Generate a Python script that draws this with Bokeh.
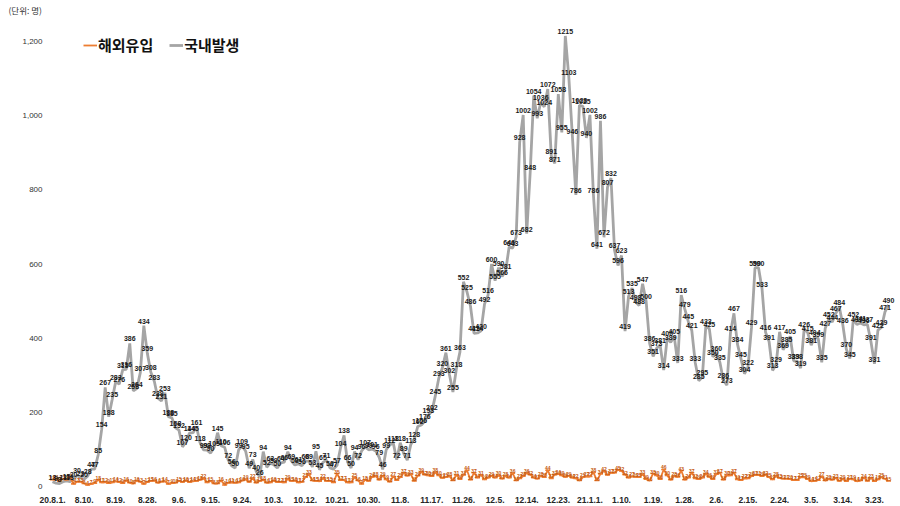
from bokeh.plotting import figure
from bokeh.models import (FixedTicker, NumeralTickFormatter, Legend, LegendItem,
                          ColumnDataSource, Range1d, Title)
from bokeh.core.properties import value
from bokeh.embed import file_html
from bokeh.resources import INLINE

# ---- data (daily, 2020-08-01 .. 2021-03-27) ----
domestic = [
    13, 9, 8, 13, 15, 13, 20, 30, 23, 20, 28, 47, 47,
    85, 154, 267, 188, 235, 283, 276, 315, 316, 386, 258, 264, 307, 434, 359, 308, 283, 238,
    231, 253, 188, 185, 158, 152, 107, 120, 144, 145, 161, 118, 99, 98, 90, 105, 145, 110, 106, 72,
    56, 50, 99, 109, 95, 49, 73, 40, 26, 94,
    52, 63, 59, 50, 64, 66, 94, 69, 58, 61, 56, 68, 69, 53, 95, 45, 65, 71, 50, 47, 57, 104, 138,
    66, 50, 94, 72, 96, 107, 99, 101,
    96, 79, 46, 99, 112, 118, 72, 118, 89, 71, 113, 128, 162, 166, 176, 193, 202, 245, 293, 320,
    361, 302, 255, 318, 363, 552, 525, 486, 413, 414,
    420, 492, 516, 600, 555, 590, 566, 581, 646, 643, 673, 928, 1002, 682, 848, 1054, 993, 1036,
    1024, 1072, 891, 871, 1058, 955, 1215, 1103, 946, 786, 1028, 1025, 940,
    1002, 786, 641, 986, 672, 807, 832, 637, 596, 623, 419, 513, 535, 498, 488, 547, 500, 386,
    351, 373, 381, 314, 400, 389, 405, 333, 516, 479, 445, 421, 333,
    285, 295, 433, 425, 350, 360, 335, 286, 273, 414, 467, 384, 345, 304, 322, 429, 590, 590,
    533, 416, 391, 313, 329, 417, 369, 385, 405, 339,
    338, 319, 426, 415, 381, 404, 399, 335, 427, 452, 444, 467, 484, 436, 370, 345, 452, 437,
    441, 436, 437, 391, 331, 422, 429, 471, 490,
]
imported = [
    18, 21, 15, 21, 18, 23, 7, 13, 13, 8, 4, 7, 9, 18, 11, 12, 9, 11, 14, 12, 9, 16, 10, 8, 16, 13, 7, 12, 15, 16, 10,
    13, 14, 7, 9, 10, 15, 12, 16, 12, 14, 15, 18, 22, 11, 15, 8, 8, 16, 4, 10, 11, 10, 11, 16, 19, 12, 22, 10, 15, 18,
    10, 11, 16, 12, 12, 11, 20, 15, 16, 11, 12, 25, 33, 16, 15, 14, 22, 15, 15, 11, 35, 17, 17, 11, 11, 25, 16, 7, 18, 15, 26,
    28, 18, 29, 19, 13, 27, 17, 25, 37, 29, 33, 15, 29, 39, 32, 30, 28, 38, 30, 23, 25, 28, 16, 31, 20, 31, 44, 18, 37, 24,
    31, 19, 24, 29, 24, 30, 21, 28, 24, 36, 16, 22, 28, 36, 32, 24, 21, 28, 25, 44, 22, 32, 34, 30, 26, 29, 24, 22, 16, 25, 27,
    27, 38, 16, 34, 42, 31, 37, 37, 45, 42, 32, 24, 27, 26, 25, 33, 20, 16, 35, 30, 20, 46, 30, 18, 28, 26, 43, 18, 24, 37, 22,
    20, 24, 34, 26, 20, 33, 37, 18, 30, 30, 37, 19, 17, 22, 22, 28, 31, 31, 28, 32, 25, 19, 28, 23, 21, 21, 20, 17,
    17, 25, 25, 20, 14, 15, 17, 27, 16, 20, 18, 23, 15, 20, 14, 21, 19, 14, 16, 24, 15, 23, 14, 19, 25, 21, 15,
]
tick_labels = ["20.8.1.", "8.10.", "8.19.", "8.28.", "9.6.", "9.15.", "9.24.", "10.3.", "10.12.",
               "10.21.", "10.30.", "11.8.", "11.17.", "11.26.", "12.5.", "12.14.", "12.23.", "21.1.1.",
               "1.10.", "1.19.", "1.28.", "2.6.", "2.15.", "2.24.", "3.5.", "3.14.", "3.23."]
y_ticks = [0, 200, 400, 600, 800, 1000, 1200]
series_names = ["해외유입", "국내발생"]
unit_text = "(단위: 명)"

n = len(domestic)
xs = list(range(n))
x_ticks = list(range(0, n, 9))

src = ColumnDataSource(dict(
    x=xs, dom=domestic, imp=imported,
    dom_lbl=[str(v) for v in domestic], imp_lbl=[str(v) for v in imported],
))

KR = "Noto Sans CJK KR"
LAT = "Liberation Sans"

p = figure(width=900, height=506, output_backend="svg", toolbar_location=None,
           x_range=Range1d(-2.2775, 241.42), y_range=Range1d(-8.09, 1267.42),
           min_border_left=44, min_border_right=0, min_border_top=16, min_border_bottom=17)
p.outline_line_color = None
p.grid.visible = False
p.background_fill_color = "white"

p.add_layout(Title(text=unit_text, align="left", offset=-36, standoff=0,
                   vertical_align="middle", text_font=KR, text_font_size="8.5px",
                   text_font_style="normal", text_color="#333333"), "above")

r_dom = p.line("x", "dom", source=src, line_color="#A5A5A5", line_width=2.8)
r_imp = p.line("x", "imp", source=src, line_color="#ED7D31", line_width=1.8)
p.scatter("x", "imp", source=src, marker="dash", size=5, line_width=1.6, color="#ED7D31")

p.text("x", "imp", text="imp_lbl", source=src, text_font=value(LAT), text_font_size=value("5px"),
       text_font_style="bold", text_align="center", text_baseline="middle", y_offset=-2,
       text_color="#C55A11")
p.text("x", "dom", text="dom_lbl", source=src, text_font=value(LAT), text_font_size=value("7px"),
       text_font_style="bold", text_align="center", text_baseline="bottom", y_offset=-2,
       text_color="#1a1a1a")

# axes
p.yaxis.ticker = FixedTicker(ticks=y_ticks)
p.yaxis.formatter = NumeralTickFormatter(format="0,0")
p.yaxis.axis_line_color = None
p.yaxis.major_tick_line_color = None
p.yaxis.minor_tick_line_color = None
p.yaxis.major_tick_out = 0
p.yaxis.major_tick_in = 0
p.yaxis.major_label_text_font = LAT
p.yaxis.major_label_text_font_size = "8px"
p.yaxis.major_label_text_color = "#333333"
p.yaxis.major_label_standoff = 2

p.xaxis.ticker = FixedTicker(ticks=x_ticks)
p.xaxis.major_label_overrides = {t: l for t, l in zip(x_ticks, tick_labels)}
p.xaxis.axis_line_color = None
p.xaxis.major_tick_line_color = None
p.xaxis.minor_tick_line_color = None
p.xaxis.major_label_text_font = LAT
p.xaxis.major_label_text_font_style = "bold"
p.xaxis.major_label_text_font_size = "8.5px"
p.xaxis.major_label_text_color = "#262626"
p.xaxis.major_label_standoff = 1

legend = Legend(items=[LegendItem(label=series_names[0], renderers=[r_imp]),
                       LegendItem(label=series_names[1], renderers=[r_dom])],
                location=(39, 434), orientation="horizontal",
                label_text_font=KR, label_text_font_style="bold", label_text_font_size="15px",
                label_text_color="#111111",
                glyph_width=14, glyph_height=16, label_standoff=1, spacing=16, padding=0,
                margin=0, border_line_color=None, background_fill_alpha=0)
p.add_layout(legend)

open("out.html", "w").write(file_html(p, INLINE))
